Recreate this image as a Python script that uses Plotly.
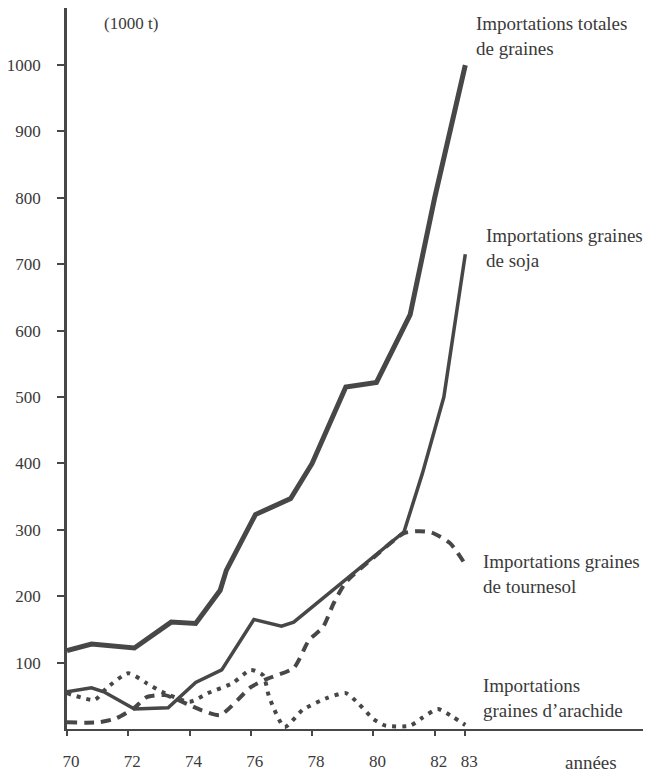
import plotly.graph_objects as go

# ---- data (years, thousand tonnes) ----
total_years = [70, 70.8, 72.2, 73.4, 74.2, 75.0, 75.2, 76.15, 77.3, 78.0, 79.1, 80.1, 81.2, 82.0, 83.0]
total_vals = [118, 128, 122, 161, 159, 209, 239, 323, 347, 400, 515, 522, 624, 800, 1000]

soja_years = [70, 70.8, 71.2, 72.2, 73.3, 74.2, 75.05, 76.1, 77.0, 77.4, 81.0, 81.6, 82.3, 83.0]
soja_vals = [56, 62, 56, 30, 32, 70, 89, 165, 155, 161, 297, 385, 500, 715]

tournesol_years = [70, 71.0, 71.6, 72.2, 72.6, 73.2, 74.0, 74.4, 75.0, 76.0, 76.5, 77.4, 77.9,
                   78.35, 78.7, 79.1, 80.0, 81.0, 81.5, 81.9, 82.5, 83.0]
tournesol_vals = [10, 10, 16, 32, 48, 51, 36, 28, 21, 63, 75, 92, 134,
                  153, 189, 221, 258, 295, 298, 296, 280, 248]

arachide_years = [70, 70.9, 71.3, 72.0, 72.6, 73.1, 74.0, 74.6, 75.4, 76.0, 76.4, 76.6, 77.1,
                  77.7, 78.5, 79.1, 79.5, 80.0, 80.4, 81.2, 81.6, 82.1, 82.6, 83.0]
arachide_vals = [54, 44, 62, 84, 69, 56, 41, 54, 69, 89, 81, 48, 3,
                 29, 47, 54, 39, 15, 5, 5, 17, 30, 18, 6]

x_tickvals = [70, 72, 74, 76, 78, 80, 82, 83]
x_ticktext = ["70", "72", "74", "76", "78", "80", "82", "83"]
y_tickvals = [100, 200, 300, 400, 500, 600, 700, 800, 900, 1000]
y_ticktext = ["100", "200", "300", "400", "500", "600", "700", "800", "900", "1000"]

labels = [
    ("Importations totales<br>de graines", 83.3, 1044),
    ("Importations graines<br>de soja", 83.6, 724),
    ("Importations graines<br>de tournesol", 83.5, 234),
    ("Importations<br>graines d’arachide", 83.5, 47),
]

INK = "#474747"
TXT = "#3a3a3a"
SERIF = "Liberation Serif"

fig = go.Figure()
fig.add_trace(go.Scatter(x=total_years, y=total_vals, mode="lines",
                         line=dict(color=INK, width=5), showlegend=False))
fig.add_trace(go.Scatter(x=soja_years, y=soja_vals, mode="lines",
                         line=dict(color=INK, width=3.5), showlegend=False))
fig.add_trace(go.Scatter(x=tournesol_years, y=tournesol_vals, mode="lines",
                         line=dict(color=INK, width=4, dash="10px,7px", shape="spline", smoothing=0.6),
                         showlegend=False))
fig.add_trace(go.Scatter(x=arachide_years, y=arachide_vals, mode="lines",
                         line=dict(color=INK, width=4, dash="4px,6px", shape="spline", smoothing=0.6),
                         showlegend=False))

for text, lx, ly in labels:
    fig.add_annotation(x=lx, y=ly, xref="x", yref="y", text=text, showarrow=False,
                       xanchor="left", yanchor="middle", align="left",
                       font=dict(family=SERIF, size=19, color=TXT))

fig.add_annotation(x=72.1, y=1062, xref="x", yref="y", text="(1000 t)", showarrow=False,
                   xanchor="center", yanchor="middle",
                   font=dict(family=SERIF, size=17, color=TXT))
fig.add_annotation(x=87.1, y=0, xref="x", yref="paper", text="années", showarrow=False,
                   xanchor="center", yanchor="middle", yshift=-33,
                   font=dict(family=SERIF, size=19, color=TXT))

fig.update_layout(
    width=650, height=772,
    margin=dict(l=67, r=7, t=8, b=43, autoexpand=False),
    paper_bgcolor="white", plot_bgcolor="white",
    xaxis=dict(range=[70, 88.8], tickmode="array", tickvals=x_tickvals, ticktext=x_ticktext,
               automargin=False,
               showgrid=False, zeroline=False, showline=True, linecolor=INK, linewidth=2,
               ticks="outside", ticklen=5, tickwidth=2, tickcolor=INK,
               ticklabelstandoff=11, ticklabelshift=4,
               tickfont=dict(family=SERIF, size=17, color=TXT)),
    yaxis=dict(range=[0, 1086], tickmode="array", tickvals=y_tickvals, ticktext=y_ticktext,
               automargin=False,
               showgrid=False, zeroline=False, showline=True, linecolor=INK, linewidth=2.5,
               ticks="outside", ticklen=7, tickwidth=2, tickcolor=INK,
               ticklabelstandoff=13,
               tickfont=dict(family=SERIF, size=17, color=TXT)),
)

fig.write_html("out.html", config={"displayModeBar": False},
               post_script="document.body.style.margin='0';document.body.style.overflow='hidden';")
